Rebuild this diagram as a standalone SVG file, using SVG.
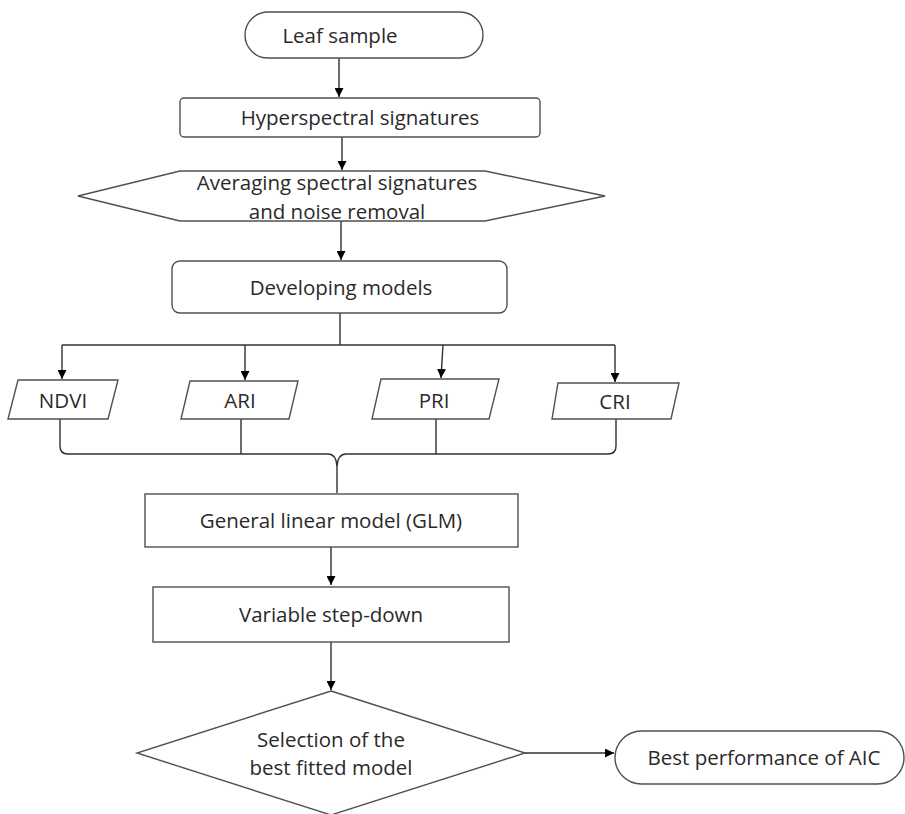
<svg xmlns="http://www.w3.org/2000/svg" width="905" height="814" viewBox="0 0 905 814">
<style>
.s{fill:#fff;stroke:#505050;stroke-width:1.4}
.c{fill:none;stroke:#303030;stroke-width:1.4}
text{font-family:"Open Sans","Liberation Sans",sans-serif;font-size:20.5px;fill:#2a2a2a;text-anchor:middle;dominant-baseline:central}
</style>
<defs>
<marker id="a" viewBox="0 0 10 10" refX="10" refY="5" markerWidth="9" markerHeight="9" markerUnits="userSpaceOnUse" orient="auto">
<path d="M0,0L10,5L0,10z" fill="#000"/>
</marker>
</defs>
<rect width="905" height="814" fill="#fff"/>
<g id="connectors">
<path class="c" d="M339,58V97" marker-end="url(#a)"/>
<path class="c" d="M342,137V170" marker-end="url(#a)"/>
<path class="c" d="M341,221V260" marker-end="url(#a)"/>
<path class="c" d="M340,313V345"/>
<path class="c" d="M62,345H615"/>
<path class="c" d="M62,345V379" marker-end="url(#a)"/>
<path class="c" d="M245,345V380" marker-end="url(#a)"/>
<path class="c" d="M443,345L441,378" marker-end="url(#a)"/>
<path class="c" d="M615,345V382" marker-end="url(#a)"/>
<path class="c" d="M60,419V446Q60,454 68,454H328Q336,454 337,466V493"/>
<path class="c" d="M616,419V446Q616,454 608,454H346Q338,454 337,466"/>
<path class="c" d="M241,419V454"/>
<path class="c" d="M436,419V454"/>
<path class="c" d="M331,547V585" marker-end="url(#a)"/>
<path class="c" d="M331,642V690" marker-end="url(#a)"/>
<path class="c" d="M525,753H614" marker-end="url(#a)"/>
</g>
<g id="leaf">
<rect class="s" x="245" y="12" width="238" height="46" rx="23"/>
<text x="340" y="35">Leaf sample</text>
</g>
<g id="hyper">
<rect class="s" x="180" y="98" width="360" height="39" rx="4"/>
<text x="360" y="117">Hyperspectral signatures</text>
</g>
<g id="avg">
<polygon class="s" points="78,196 180,171 485,171 605,196 485,221 180,221"/>
<text x="337" y="182">Averaging spectral signatures</text>
<text x="337" y="211">and noise removal</text>
</g>
<g id="dev">
<rect class="s" x="172" y="261" width="335" height="52" rx="8"/>
<text x="341" y="287">Developing models</text>
</g>
<g id="ndvi">
<polygon class="s" points="18,380 118,380 108,419 8,419"/>
<text x="63" y="400">NDVI</text>
</g>
<g id="ari">
<polygon class="s" points="190,381 298,381 289,419 181,419"/>
<text x="240" y="400">ARI</text>
</g>
<g id="pri">
<polygon class="s" points="381,379 499,379 489,419 372,419"/>
<text x="434" y="400">PRI</text>
</g>
<g id="cri">
<polygon class="s" points="558,383 679,383 671,419 552,419"/>
<text x="615" y="401">CRI</text>
</g>
<g id="glm">
<rect class="s" x="145" y="494" width="373" height="53"/>
<text x="331" y="520">General linear model (GLM)</text>
</g>
<g id="step">
<rect class="s" x="153" y="587" width="356" height="55"/>
<text x="331" y="614">Variable step-down</text>
</g>
<g id="sel">
<polygon class="s" points="331,691 525,753 331,815 137,753"/>
<text x="331" y="739">Selection of the</text>
<text x="331" y="767">best fitted model</text>
</g>
<g id="best">
<rect class="s" x="615" y="731" width="289" height="53" rx="26.5"/>
<text x="764" y="757">Best performance of AIC</text>
</g>
</svg>
